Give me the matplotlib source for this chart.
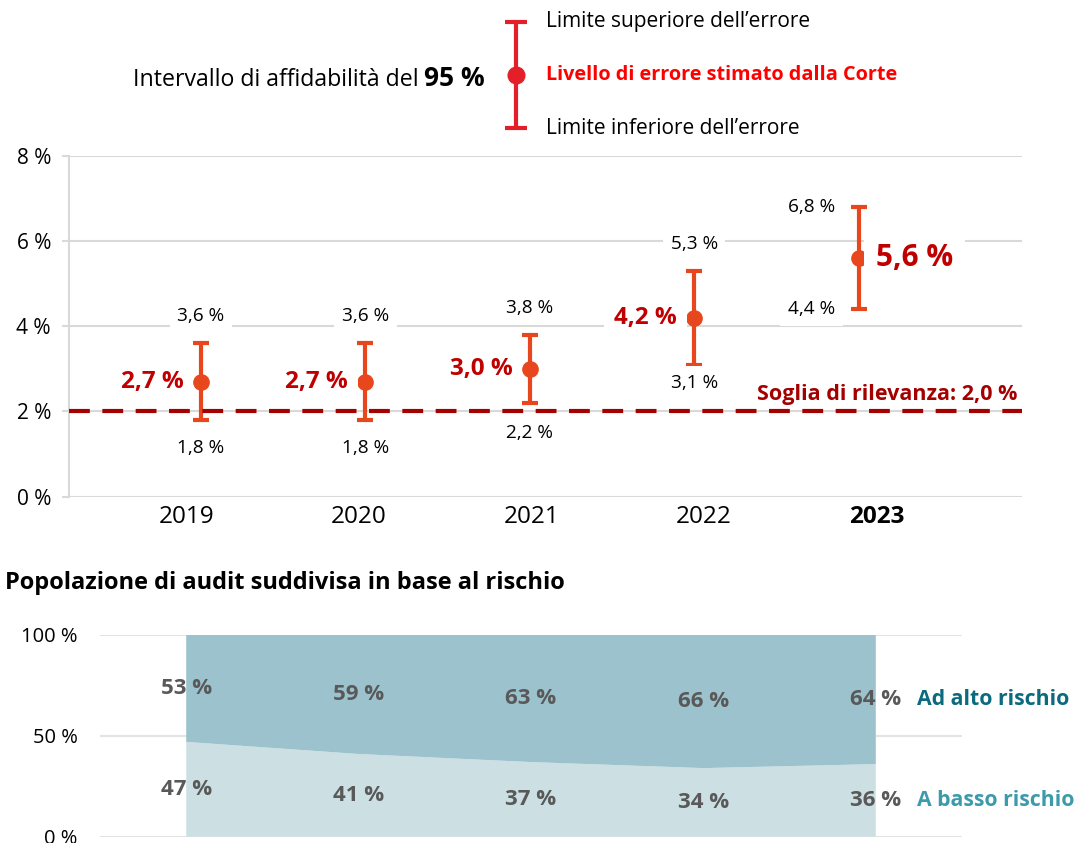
import numpy as np
import matplotlib.pyplot as plt

plt.rcParams['font.family'] = ['Open Sans', 'DejaVu Sans']

# --- dati ---
anni = ["2019", "2020", "2021", "2022", "2023"]
stima = [2.7, 2.7, 3.0, 4.2, 5.6]
lim_sup = [3.6, 3.6, 3.8, 5.3, 6.8]
lim_inf = [1.8, 1.8, 2.2, 3.1, 4.4]
soglia = 2.0

alto_rischio = [53, 59, 63, 66, 64]
basso_rischio = [47, 41, 37, 34, 36]

# --- colori ---
ERR = "#e8461c"
ROSSO_SCURO = "#c00000"
SOGLIA_COL = "#a50000"
GRIGLIA = "#d9d9d9"
ALTO = "#9cc3cd"
BASSO = "#cce0e4"
TESTO_GRIGIO = "#595959"


def fmt(v):
    return f"{v:.1f}".replace(".", ",") + " %"


W, H = 1080, 843
fig = plt.figure(figsize=(W / 100, H / 100), dpi=100)

# overlay in pixel per la legenda in alto
lax = fig.add_axes([0, 0, 1, 1])
lax.set_xlim(0, W)
lax.set_ylim(H, 0)
lax.axis("off")

# ---------------- grafico superiore ----------------
ax = fig.add_axes([69 / W, 1 - 496.5 / H, (1022 - 69) / W, (496.5 - 156) / H])
x = np.arange(len(anni))
s = np.array(stima)
yerr = [s - np.array(lim_inf), np.array(lim_sup) - s]
ax.errorbar(x, s, yerr=yerr, fmt="o", color=ERR, ms=11, elinewidth=3,
            capsize=6, capthick=3, zorder=3)
ax.axhline(soglia, color=SOGLIA_COL, lw=3, ls=(0, (5, 3)), zorder=4)

ax.set_xlim(-0.803, 4.994)
ax.set_ylim(0, 8)
ax.set_yticks([0, 2, 4, 6, 8])
ax.set_yticklabels([f"{v} %" for v in [0, 2, 4, 6, 8]])
# le etichette degli anni sono allineate alle colonne del grafico sotto
ax.set_xticks(x * 1.05 - 0.09)
ax.set_xticklabels(anni)
ax.get_xticklabels()[-1].set_fontweight("bold")
ax.grid(axis="y", color=GRIGLIA, lw=1.5)
ax.set_axisbelow(True)
for k in ["top", "right", "bottom"]:
    ax.spines[k].set_visible(False)
ax.spines["left"].set_color(GRIGLIA)
ax.spines["left"].set_linewidth(1.5)
ax.tick_params(axis="y", length=5, color=GRIGLIA, width=1.5, labelsize=15, pad=8)
ax.tick_params(axis="x", length=0, labelsize=17.5, pad=6)

box = dict(boxstyle="square,pad=0.4", fc="white", ec="none")
off_inf = [-20, -20, -21.5, -13]
for i in range(len(anni)):
    if i < 4:
        ax.annotate(fmt(lim_sup[i]), (i, lim_sup[i]), xytext=(0, 19.5),
                    textcoords="offset points", ha="center", va="center",
                    fontsize=13.7, bbox=box, zorder=5)
        ax.annotate(fmt(lim_inf[i]), (i, lim_inf[i]), xytext=(0, off_inf[i]),
                    textcoords="offset points", ha="center", va="center",
                    fontsize=13.7, bbox=box, zorder=5)
        ax.annotate(fmt(stima[i]), (i, stima[i]), xytext=(-12.5, 0),
                    textcoords="offset points", ha="right", va="center",
                    fontsize=17.5, fontweight="bold", color=ROSSO_SCURO,
                    bbox=box, zorder=5)
    else:
        ax.annotate(fmt(lim_sup[i]), (i, lim_sup[i]), xytext=(-17, 0),
                    textcoords="offset points", ha="right", va="center",
                    fontsize=13.7, bbox=box, zorder=5)
        ax.annotate(fmt(lim_inf[i]), (i, lim_inf[i]), xytext=(-17, 0),
                    textcoords="offset points", ha="right", va="center",
                    fontsize=13.7, bbox=box, zorder=5)
        ax.annotate(fmt(stima[i]), (i, stima[i]), xytext=(12.5, 0),
                    textcoords="offset points", ha="left", va="center",
                    fontsize=21.5, fontweight="bold", color=ROSSO_SCURO,
                    bbox=box, zorder=5)

ax.annotate("Soglia di rilevanza: " + fmt(soglia), (4.963, soglia), xytext=(0, 12),
            textcoords="offset points", ha="right", va="center",
            fontsize=15.5, fontweight="bold", color=SOGLIA_COL, zorder=5)

# ---------------- legenda in alto ----------------
LEG = "#e3202a"
lax.errorbar([515.7], [75], yerr=[[53], [53]], fmt="o", color=LEG, ms=12,
             elinewidth=3, capsize=8, capthick=3)
lax.text(546, 22, "Limite superiore dell\u2019errore", ha="left", va="center", fontsize=15)
lax.text(546, 75, "Livello di errore stimato dalla Corte", ha="left", va="center",
         fontsize=14.3, fontweight="bold", color="#ff0000")
lax.text(546, 128, "Limite inferiore dell\u2019errore", ha="left", va="center", fontsize=15)

t95 = lax.text(485, 86, "95 %", ha="right", va="baseline", fontsize=19, fontweight="bold")
rend = fig.canvas.get_renderer()
bb = t95.get_window_extent(rend)
lax.text(bb.x0 - 6, 86, "Intervallo di affidabilit\u00e0 del", ha="right",
         va="baseline", fontsize=16.7)

# ---------------- grafico inferiore ----------------
fig.text(5 / W, 1 - 583 / H, "Popolazione di audit suddivisa in base al rischio",
         ha="left", va="center", fontsize=17, fontweight="bold")

bx = fig.add_axes([100 / W, 1 - 836.7 / H, 862 / W, 201.7 / H])
bx.stackplot(x, basso_rischio, alto_rischio, colors=[BASSO, ALTO], zorder=2)
bx.set_xlim(-0.5, 4.5)
bx.set_ylim(0, 100)
bx.set_yticks([0, 50, 100])
bx.set_yticklabels(["0 %", "50 %", "100 %"])
bx.set_xticks([])
bx.grid(axis="y", color="#e3e3e3", lw=1.5, zorder=0)
bx.set_axisbelow(True)
for k in bx.spines:
    bx.spines[k].set_visible(False)
bx.tick_params(axis="y", length=0, labelsize=14.5, pad=16)

for i in range(len(anni)):
    lo, hi = basso_rischio[i], alto_rischio[i]
    bx.text(i, lo / 2, f"{lo} %", ha="center", va="center", fontsize=16,
            fontweight="bold", color=TESTO_GRIGIO, zorder=3)
    bx.text(i, lo + hi / 2, f"{hi} %", ha="center", va="center", fontsize=16,
            fontweight="bold", color=TESTO_GRIGIO, zorder=3)

n = len(anni) - 1
bx.annotate("Ad alto rischio", (n, basso_rischio[n] + alto_rischio[n] / 2),
            xytext=(30, 0), textcoords="offset points", ha="left", va="center",
            fontsize=15.3, fontweight="bold", color="#0b6a7e", annotation_clip=False)
bx.annotate("A basso rischio", (n, basso_rischio[n] / 2),
            xytext=(30, 0), textcoords="offset points", ha="left", va="center",
            fontsize=15.3, fontweight="bold", color="#3d9aab", annotation_clip=False)

fig.savefig("out.png", dpi=100)
